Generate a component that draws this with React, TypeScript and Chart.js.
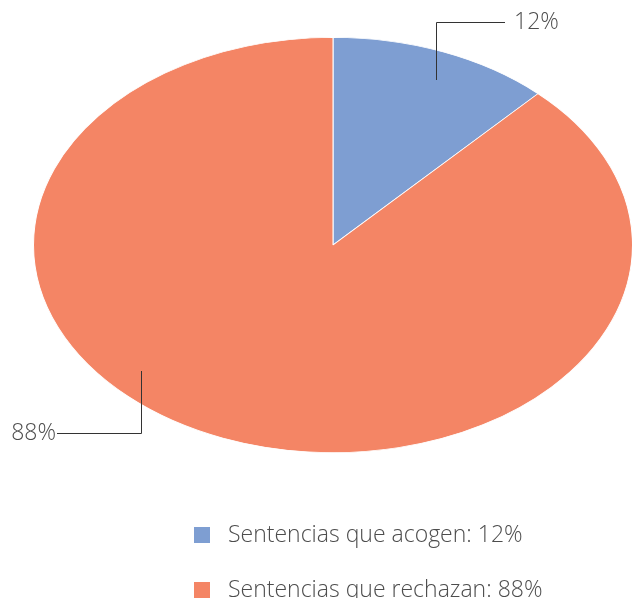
import React, { useEffect, useRef } from "react";
import { Chart, registerables } from "chart.js";

Chart.register(...registerables);

const categories = ["Sentencias que acogen: 12%", "Sentencias que rechazan: 88%"];
const values = [12, 88];
const valueLabels = ["12%", "88%"];
const colors = ["#7E9ED2", "#F48565"];

const FONT = "300 23px 'Open Sans', Lato, sans-serif";
const TEXT_COLOR = "#4d4d4d";

export default function App() {
  const ref = useRef<HTMLCanvasElement | null>(null);
  useEffect(() => {
    const canvas = ref.current!;
    const sx = 300 / 208;
    const stretch = {
      id: "stretch",
      beforeDatasetsDraw(chart: any) {
        const meta = chart.getDatasetMeta(0);
        const arc = meta.data[0];
        const ctx = chart.ctx;
        ctx.save();
        ctx.translate(arc.x, arc.y);
        ctx.scale(sx, 1);
        ctx.translate(-arc.x, -arc.y);
      },
      afterDatasetsDraw(chart: any) {
        chart.ctx.restore();
      },
    };
    const anchorT = [0.54, 0.579];
    const anchorR = [0.866, 0.881];
    const annotate = {
      id: "annotate",
      afterDraw(chart: any) {
        const ctx = chart.ctx;
        const meta = chart.getDatasetMeta(0);
        const a0 = meta.data[0];
        const cx = a0.x, cy = a0.y, r = a0.outerRadius;
        ctx.save();
        ctx.strokeStyle = "#333333";
        ctx.lineWidth = 1;
        ctx.font = FONT;
        ctx.textBaseline = "middle";
        meta.data.forEach((arc: any, i: number) => {
          const ang = arc.startAngle + anchorT[i] * (arc.endAngle - arc.startAngle);
          const px = Math.round(cx + Math.cos(ang) * r * anchorR[i] * sx) + 0.5;
          const py = Math.round(cy + Math.sin(ang) * r * anchorR[i]);
          ctx.beginPath();
          ctx.fillStyle = TEXT_COLOR;
          if (i === 0) {
            const ty = 22.5;
            ctx.moveTo(px, py);
            ctx.lineTo(px, ty);
            ctx.lineTo(505, ty);
            ctx.stroke();
            ctx.textAlign = "left";
            ctx.fillText(valueLabels[i], 514, ty);
          } else {
            const ty = 433.5;
            ctx.moveTo(px, py);
            ctx.lineTo(px, ty);
            ctx.lineTo(57, ty);
            ctx.stroke();
            ctx.textAlign = "right";
            ctx.fillText(valueLabels[i], 56, ty);
          }
        });
        categories.forEach((c, i) => {
          const y = 535 + i * 55;
          ctx.fillStyle = colors[i];
          ctx.fillRect(194, y - 8, 16, 16);
          ctx.fillStyle = TEXT_COLOR;
          ctx.textAlign = "left";
          ctx.fillText(c, 228, y);
        });
        ctx.restore();
      },
    };
    const chart = new Chart(canvas, {
      type: "pie",
      data: {
        labels: categories,
        datasets: [
          {
            data: values,
            backgroundColor: colors,
            borderColor: "#ffffff",
            borderWidth: 0.7,
          },
        ],
      },
      options: {
        animation: false,
        responsive: false,
        layout: { padding: { left: 125, right: 91, top: 37, bottom: 145 } },
        plugins: { legend: { display: false }, tooltip: { enabled: false } },
      },
      plugins: [stretch, annotate],
    });
    return () => chart.destroy();
  }, []);
  return (
    <div style={{ position: "absolute", left: 0, top: 0, width: 632, height: 598, background: "#fff" }}>
      <canvas ref={ref} width={632} height={598} style={{ width: 632, height: 598 }} />
    </div>
  );
}
